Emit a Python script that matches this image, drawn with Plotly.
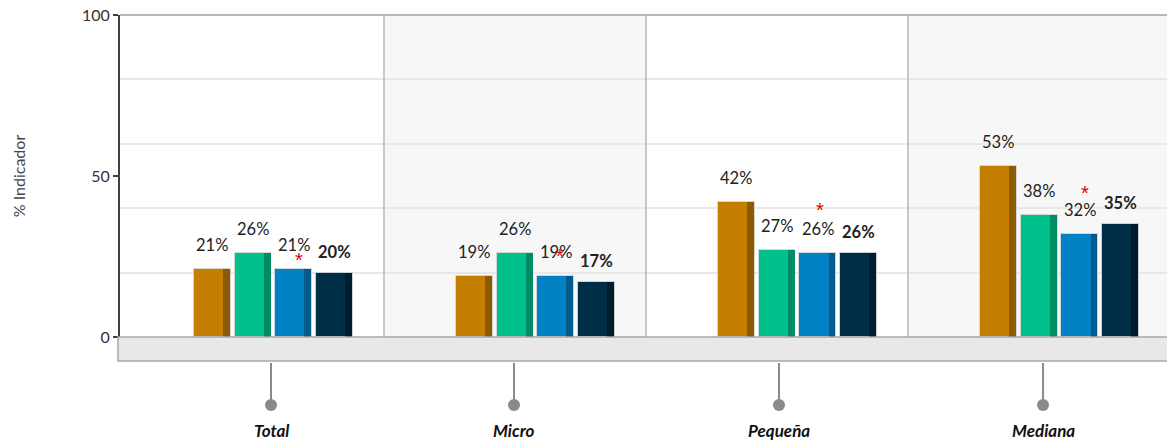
import plotly.graph_objects as go

categories = ["Total", "Micro", "Pequeña", "Mediana"]
series_names = ["Serie 1", "Serie 2", "Serie 3", "Serie 4"]
values = {
    "Serie 1": [21, 19, 42, 53],
    "Serie 2": [26, 26, 27, 38],
    "Serie 3": [21, 19, 26, 32],
    "Serie 4": [20, 17, 26, 35],
}
labels = {
    "Serie 1": ["21%", "19%", "42%", "53%"],
    "Serie 2": ["26%", "26%", "27%", "38%"],
    "Serie 3": ["21%", "19%", "26%", "32%"],
    "Serie 4": ["20%", "17%", "26%", "35%"],
}
y_ticks = [0, 50, 100]
y_title = "% Indicador"

# styles
colors = ["#C57F00", "#00C18B", "#0082C4", "#012E47"]
side_colors = ["#8C5A00", "#008D64", "#005B8C", "#001D30"]
bold_series = [False, False, False, True]
star_shift = [9, 20, 43, 41]          # px above bar top for the red asterisk
star_xshift = [5, 4, 2, 5]
cat_label_xshift = [18, -1, 2, 4]
FONT = "Lato, 'Open Sans', sans-serif"

PLOT_W = 1047.0
PLOT_H = 322.0
X_RANGE = [-0.0076, 3.9884]
bar_w = 0.141
step = 0.155
side_w = 0.026

fig = go.Figure()
annotations = []
shapes = []

for si, name in enumerate(series_names):
    xs = [ci + 0.5 + (si - 1) * step for ci in range(len(categories))]
    ys = values[name]
    fig.add_trace(go.Bar(
        x=xs, y=ys, width=bar_w, name=name,
        marker=dict(color=colors[si], line=dict(color="rgba(215,215,215,0.9)", width=1)),
        hoverinfo="skip", showlegend=False,
    ))
    fig.add_trace(go.Bar(
        x=[x + (bar_w - side_w) / 2 - 0.003 for x in xs], y=ys, width=side_w,
        marker=dict(color=side_colors[si], line=dict(width=0)),
        hoverinfo="skip", showlegend=False,
    ))
    for ci, (x, y) in enumerate(zip(xs, ys)):
        txt = labels[name][ci]
        if bold_series[si]:
            txt = "<b>" + txt + "</b>"
        annotations.append(dict(
            x=x, y=y, xref="x", yref="y", text=txt, showarrow=False,
            yanchor="bottom", yshift=9 if bold_series[si] else 12,
            font=dict(family=FONT, size=16.5, color="#222222"),
        ))
        if si == 2:
            annotations.append(dict(
                x=x, y=y, xref="x", yref="y", text="*", showarrow=False,
                yanchor="middle", yshift=star_shift[ci], xshift=star_xshift[ci],
                font=dict(family="Arial", size=20, color="#E00000"),
            ))

# panel backgrounds
for ci in range(len(categories)):
    if ci % 2 == 1:
        shapes.append(dict(type="rect", xref="x", yref="y", x0=ci, x1=ci + 1, y0=0, y1=100,
                           fillcolor="#F7F7F7", line=dict(width=0), layer="below"))
# separators
for ci in range(1, len(categories)):
    shapes.append(dict(type="line", xref="x", yref="y", x0=ci, x1=ci, y0=0, y1=100,
                       line=dict(color="#B8B8B8", width=1.5), layer="above"))
# top border
shapes.append(dict(type="line", xref="paper", yref="paper", x0=0, x1=1, y0=1, y1=1,
                   line=dict(color="#B8B8B8", width=2)))
# bottom band
shapes.append(dict(type="rect", xref="paper", yref="paper", x0=-2 / PLOT_W, x1=1.01,
                   y0=-24 / PLOT_H, y1=0, fillcolor="#E8E8E8",
                   line=dict(color="#A8A8A8", width=1.5)))
# lollipops + category labels
for ci, cat in enumerate(categories):
    xc = ci + 0.5 + cat_label_xshift[ci] * 4 / PLOT_W
    shapes.append(dict(type="line", xref="x", yref="paper", x0=xc, x1=xc,
                       y0=-26 / PLOT_H, y1=-64 / PLOT_H,
                       line=dict(color="#8A8A8A", width=2)))
    shapes.append(dict(type="circle", xref="x", yref="paper", xsizemode="pixel", ysizemode="pixel",
                       xanchor=xc, yanchor=-68 / PLOT_H, x0=-6, x1=6, y0=-6, y1=6,
                       fillcolor="#8A8A8A", line=dict(width=0)))
    annotations.append(dict(x=xc, y=-93 / PLOT_H, xref="x", yref="paper",
                            text="<b><i>" + cat + "</i></b>", showarrow=False,
                            yanchor="middle",
                            font=dict(family=FONT, size=17, color="#111111")))

fig.update_layout(
    width=1167, height=444,
    margin=dict(l=120, r=0, t=15, b=107),
    paper_bgcolor="white", plot_bgcolor="white",
    barmode="overlay", bargap=0,
    showlegend=False,
    annotations=annotations, shapes=shapes,
    font=dict(family=FONT, color="#333333"),
    xaxis=dict(range=X_RANGE, showticklabels=False, showgrid=False, zeroline=False,
               showline=False, fixedrange=True),
    yaxis=dict(range=[0, 100], tickvals=y_ticks, ticks="outside", ticklen=5,
               tickcolor="#404040", tickwidth=1.5,
               showline=True, linecolor="#404040", linewidth=2,
               showgrid=False, zeroline=False,
               minor=dict(dtick=20, showgrid=True, gridcolor="#E8E8E8", gridwidth=1.5, ticks=""),
               tickfont=dict(family=FONT, size=16, color="#333333"),
               title=dict(text=y_title, standoff=52, font=dict(family=FONT, size=16, color="#444444"))),
)

fig.write_html(
    "out.html",
    config={"displayModeBar": False},
    post_script="document.body.style.margin='0';document.body.style.overflow='hidden';",
)
